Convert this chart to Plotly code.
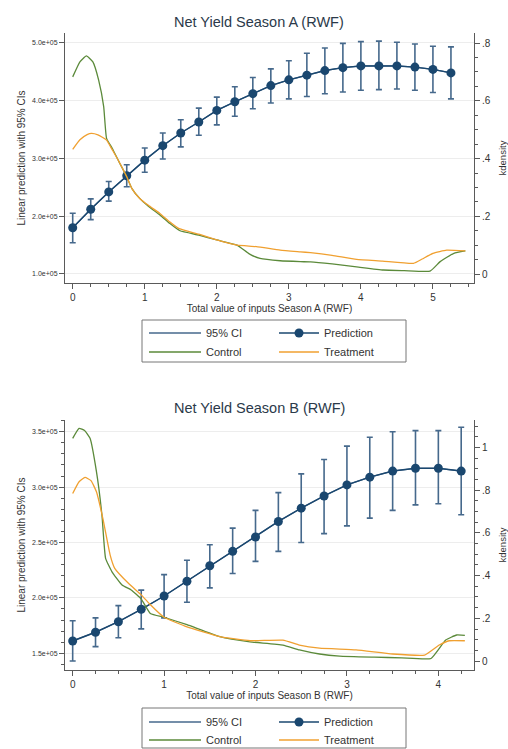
import plotly.graph_objects as go

# ---------------- data ----------------
# Season A
xA = [0, 0.25, 0.5, 0.75, 1, 1.25, 1.5, 1.75, 2, 2.25, 2.5, 2.75, 3, 3.25, 3.5, 3.75, 4, 4.25, 4.5, 4.75, 5, 5.25]
predA = [1.80e5, 2.12e5, 2.42e5, 2.70e5, 2.97e5, 3.22e5, 3.44e5, 3.63e5, 3.83e5, 3.98e5, 4.12e5, 4.26e5,
         4.36e5, 4.44e5, 4.52e5, 4.57e5, 4.60e5, 4.60e5, 4.60e5, 4.58e5, 4.54e5, 4.48e5]
hiA = [2.05e5, 2.30e5, 2.60e5, 2.89e5, 3.18e5, 3.44e5, 3.67e5, 3.87e5, 4.06e5, 4.24e5, 4.40e5, 4.55e5,
       4.69e5, 4.82e5, 4.91e5, 4.99e5, 5.02e5, 5.03e5, 5.01e5, 4.98e5, 4.94e5, 4.93e5]
loA = [1.54e5, 1.94e5, 2.26e5, 2.51e5, 2.76e5, 2.99e5, 3.20e5, 3.40e5, 3.58e5, 3.73e5, 3.86e5, 3.96e5,
       4.03e5, 4.07e5, 4.12e5, 4.15e5, 4.18e5, 4.19e5, 4.20e5, 4.18e5, 4.14e5, 4.03e5]
ctrlA_x = [0, 0.1, 0.19, 0.28, 0.36, 0.43, 0.47, 0.55, 0.63, 0.75, 0.82, 0.93, 1.05, 1.21, 1.35, 1.49,
           1.75, 2.0, 2.28, 2.45, 2.6, 2.88, 3.16, 3.3, 3.6, 3.94, 4.31, 4.6, 4.96, 5.1, 5.29, 5.45]
ctrlA_y = [0.683, 0.735, 0.756, 0.735, 0.672, 0.58, 0.47, 0.435, 0.395, 0.337, 0.297, 0.262, 0.235, 0.205,
           0.175, 0.15, 0.135, 0.118, 0.1, 0.07, 0.054, 0.046, 0.043, 0.042, 0.035, 0.025, 0.014, 0.012,
           0.01, 0.043, 0.072, 0.08]
trtA_x = [0, 0.1, 0.2, 0.26, 0.35, 0.47, 0.55, 0.63, 0.75, 0.82, 0.93, 1.05, 1.21, 1.35, 1.47, 1.75, 2.0,
          2.28, 2.55, 2.88, 3.16, 3.3, 3.6, 3.94, 4.3, 4.73, 4.85, 5.0, 5.19, 5.45]
trtA_y = [0.432, 0.465, 0.483, 0.487, 0.482, 0.464, 0.43, 0.395, 0.337, 0.297, 0.262, 0.238, 0.21, 0.18,
          0.158, 0.138, 0.118, 0.1, 0.095, 0.083, 0.077, 0.074, 0.065, 0.051, 0.045, 0.037, 0.052, 0.072,
          0.083, 0.08]

# Season B
xB = [0, 0.25, 0.5, 0.75, 1, 1.25, 1.5, 1.75, 2, 2.25, 2.5, 2.75, 3, 3.25, 3.5, 3.75, 4, 4.25]
predB = [1.611e5, 1.69e5, 1.785e5, 1.897e5, 2.017e5, 2.15e5, 2.29e5, 2.42e5, 2.55e5, 2.69e5, 2.81e5,
         2.92e5, 3.02e5, 3.09e5, 3.145e5, 3.17e5, 3.17e5, 3.145e5]
hiB = [1.794e5, 1.82e5, 1.93e5, 2.07e5, 2.21e5, 2.34e5, 2.48e5, 2.63e5, 2.79e5, 2.95e5, 3.12e5, 3.25e5,
       3.37e5, 3.45e5, 3.50e5, 3.51e5, 3.51e5, 3.54e5]
loB = [1.43e5, 1.56e5, 1.64e5, 1.72e5, 1.82e5, 1.96e5, 2.09e5, 2.22e5, 2.33e5, 2.42e5, 2.50e5, 2.58e5,
       2.65e5, 2.72e5, 2.79e5, 2.84e5, 2.85e5, 2.75e5]
ctrlB_x = [0, 0.07, 0.13, 0.19, 0.26, 0.32, 0.36, 0.43, 0.54, 0.64, 0.75, 0.85, 1.0, 1.25, 1.61, 1.94,
           2.3, 2.48, 2.7, 2.92, 3.3, 3.6, 3.92, 4.08, 4.2, 4.29]
ctrlB_y = [1.043, 1.09, 1.08, 1.043, 0.887, 0.684, 0.481, 0.418, 0.356, 0.333, 0.29, 0.223, 0.205, 0.17,
           0.114, 0.09, 0.075, 0.052, 0.033, 0.023, 0.018, 0.015, 0.012, 0.098, 0.122, 0.12]
trtB_x = [0, 0.07, 0.135, 0.2, 0.26, 0.33, 0.41, 0.46, 0.61, 0.75, 0.845, 1.0, 1.25, 1.61, 1.94, 2.3,
          2.48, 2.7, 3.1, 3.5, 3.85, 4.01, 4.12, 4.29]
trtB_y = [0.785, 0.84, 0.86, 0.845, 0.793, 0.668, 0.496, 0.434, 0.364, 0.31, 0.266, 0.205, 0.16, 0.114,
          0.095, 0.098, 0.075, 0.06, 0.052, 0.033, 0.028, 0.075, 0.095, 0.095]

left_ticks_A = [1e5, 2e5, 3e5, 4e5, 5e5]
left_text_A = ["1.0e+05", "2.0e+05", "3.0e+05", "4.0e+05", "5.0e+05"]
right_ticks_A = [0, 0.2, 0.4, 0.6, 0.8]
right_text_A = ["0", ".2", ".4", ".6", ".8"]
left_ticks_B = [1.5e5, 2e5, 2.5e5, 3e5, 3.5e5]
left_text_B = ["1.5e+05", "2.0e+05", "2.5e+05", "3.0e+05", "3.5e+05"]
right_ticks_B = [0, 0.2, 0.4, 0.6, 0.8, 1]
right_text_B = ["0", ".2", ".4", ".6", ".8", "1"]

titles = ["Net Yield Season A (RWF)", "Net Yield Season B (RWF)"]
xtitles = ["Total value of inputs Season A (RWF)", "Total value of inputs Season B (RWF)"]

# ---------------- style ----------------
NAVY = "#1a476f"
CI_COL = "#46698c"
GREEN = "#5b8a3a"
ORANGE = "#f0a030"
FONT = "Liberation Sans, Arial, sans-serif"
W, H = 508, 749

fig = go.Figure()


def add_panel(x, pred, lo, hi, cx, cy, tx, ty, xa, ya, ya2, legs):
    fig.add_trace(go.Scatter(
        x=x, y=pred, mode="lines", name="95% CI", xaxis=xa, yaxis=ya,
        line=dict(color=CI_COL, width=1.3),
        error_y=dict(type="data", symmetric=False,
                     array=[h - p for h, p in zip(hi, pred)],
                     arrayminus=[p - l for p, l in zip(pred, lo)],
                     color=CI_COL, thickness=1.6, width=3),
        legend=legs[0], hoverinfo="skip"))
    fig.add_trace(go.Scatter(
        x=cx, y=cy, mode="lines", name="Control", xaxis=xa, yaxis=ya2,
        line=dict(color=GREEN, width=1.3, shape="spline", smoothing=0.4), legend=legs[2]))
    fig.add_trace(go.Scatter(
        x=tx, y=ty, mode="lines", name="Treatment", xaxis=xa, yaxis=ya2,
        line=dict(color=ORANGE, width=1.3, shape="spline", smoothing=0.4), legend=legs[3]))
    fig.add_trace(go.Scatter(
        x=x, y=pred, mode="lines+markers", name="Prediction", xaxis=xa, yaxis=ya,
        line=dict(color=NAVY, width=1.4),
        marker=dict(color=NAVY, size=9), legend=legs[1]))


add_panel(xA, predA, loA, hiA, ctrlA_x, ctrlA_y, trtA_x, trtA_y, "x", "y", "y2",
          ["legend", "legend2", "legend3", "legend4"])
add_panel(xB, predB, loB, hiB, ctrlB_x, ctrlB_y, trtB_x, trtB_y, "x2", "y3", "y4",
          ["legend5", "legend6", "legend7", "legend8"])

AX = "#5a5a5a"
GRID = "#ededed"
xdom = [65 / W, 474 / W]


def ydom(top, bottom):
    return [1 - bottom / H, 1 - top / H]


common_x = dict(showline=True, linecolor=AX, linewidth=1, ticks="outside", ticklen=5, tickcolor=AX,
                tickfont=dict(size=10, color="#333"), showgrid=False, zeroline=False, automargin=False,
                minor=dict(dtick=0.25, ticks="outside", ticklen=3, tickcolor=AX),
                title=dict(font=dict(size=10, color="#333"), standoff=2))
common_left = dict(showline=True, linecolor=AX, linewidth=1, ticks="outside", ticklen=5, tickcolor=AX,
                   tickfont=dict(size=7, color="#333"), showgrid=True, gridcolor=GRID, gridwidth=1,
                   zeroline=False, automargin=False,
                   title=dict(text="Linear prediction with 95% CIs", font=dict(size=10, color="#333"),
                              standoff=4))
common_right = dict(showline=True, linecolor=AX, linewidth=1, ticks="outside", ticklen=5, tickcolor=AX,
                    tickfont=dict(size=10, color="#333"), showgrid=False, zeroline=False,
                    automargin=False, side="right",
                    minor=dict(dtick=0.05, ticks="outside", ticklen=3, tickcolor=AX),
                    title=dict(text="kdensity", font=dict(size=9.5, color="#333"), standoff=9))

fig.update_layout(
    width=W, height=H, margin=dict(l=0, r=0, t=0, b=0, autoexpand=False),
    paper_bgcolor="white", plot_bgcolor="white",
    font=dict(family=FONT, color="#333"),
    xaxis=dict(common_x, domain=xdom, range=[-0.107, 5.57], tickvals=[0, 1, 2, 3, 4, 5], anchor="y",
               title_text=xtitles[0]),
    yaxis=dict(common_left, domain=ydom(33, 283), range=[0.844e5, 5.17e5], tickvals=left_ticks_A,
               ticktext=left_text_A, anchor="x"),
    yaxis2=dict(common_right, overlaying="y", anchor="x", range=[-0.031, 0.835], tickvals=right_ticks_A,
                ticktext=right_text_A),
    xaxis2=dict(common_x, domain=xdom, range=[-0.084, 4.39], tickvals=[0, 1, 2, 3, 4], anchor="y3",
                title_text=xtitles[1]),
    yaxis3=dict(common_left, domain=ydom(420, 670), range=[1.349e5, 3.606e5], tickvals=left_ticks_B,
                ticktext=left_text_B, anchor="x2",
                minor=dict(dtick=1e4, ticks="outside", ticklen=3, tickcolor=AX)),
    yaxis4=dict(common_right, overlaying="y3", anchor="x2", range=[-0.042, 1.129], tickvals=right_ticks_B,
                ticktext=right_text_B),
    showlegend=True,
)

leg_common = dict(orientation="v", xanchor="left", yanchor="middle", bgcolor="rgba(0,0,0,0)",
                  borderwidth=0, font=dict(size=11, color="#333"))
# (legend name, left x px, itemwidth, row centre y px)
leg_pos = [("legend", 144, 52, 333), ("legend2", 274, 40, 333),
           ("legend3", 144, 52, 352), ("legend4", 274, 40, 352),
           ("legend5", 144, 52, 722), ("legend6", 274, 40, 722),
           ("legend7", 144, 52, 740), ("legend8", 274, 40, 740)]
fig.update_layout({name: dict(leg_common, x=xp / W, y=1 - yp / H, itemwidth=iw)
                   for name, xp, iw, yp in leg_pos})

# legend frames
for top, bot in [(320, 362), (708, 748)]:
    fig.add_shape(type="rect", xref="paper", yref="paper", x0=142 / W, x1=406 / W,
                  y0=1 - bot / H, y1=1 - top / H, line=dict(color="#777", width=1))

# titles
for t, yc in zip(titles, [22, 408]):
    fig.add_annotation(text=t, xref="paper", yref="paper", x=259 / W, y=1 - yc / H,
                       xanchor="center", yanchor="middle", showarrow=False,
                       font=dict(size=14.5, color="#2b3a4a", family=FONT))

fig.write_html("out.html")
